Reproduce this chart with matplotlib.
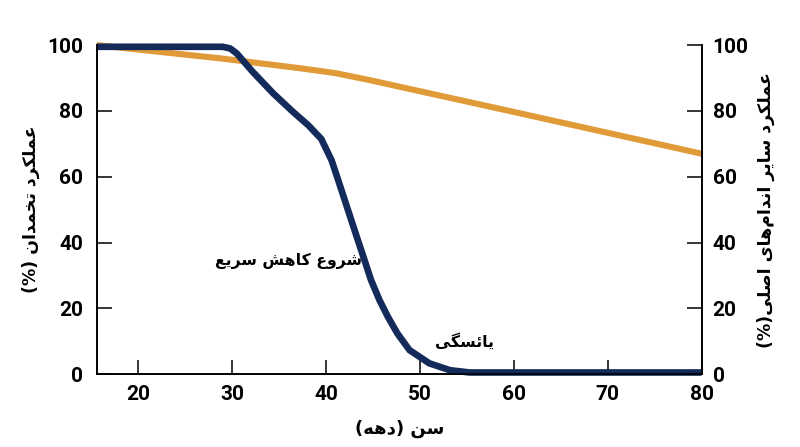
import matplotlib
matplotlib.use("Agg")
import matplotlib.pyplot as plt

# age (years) and function (%)
ovary_age = [15.6, 29.0, 29.8, 30.5, 32.2, 34.4, 36.5, 38.1, 39.5, 40.6, 41.3, 42.0,
             42.7, 43.4, 44.1, 44.8, 45.7, 46.6, 47.6, 48.9, 51.0, 53.2, 55.3, 80.0]
ovary_func = [99.5, 99.5, 99.0, 97.5, 91.9, 85.3, 79.7, 75.7, 71.5, 65.0, 59.0, 52.9,
              46.8, 40.7, 34.7, 28.6, 22.5, 17.4, 12.4, 7.3, 3.3, 1.2, 0.5, 0.5]
organ_age = [15.6, 28.7, 37.2, 41.0, 44.6, 60.0, 80.0]
organ_func = [100, 96.0, 93.0, 91.5, 89.4, 79.7, 67.0]

x_ticks = [20, 30, 40, 50, 60, 70, 80]
y_ticks = [0, 20, 40, 60, 80, 100]

x_label = "سن (دهه)"
left_label = "عملکرد تخمدان (%)"
right_label = "عملکرد سایر اندام‌های اصلی(%)"
note_decline = "شروع کاهش سریع"
note_meno = "یائسگی"

NAVY = "#132a5a"
ORANGE = "#e09a38"

# matplotlib has no arabic shaping: map letters to presentation forms by hand
# letter: (isolated, final, initial, medial); two-form letters only join to the right
FORMS = {
    "ا": ("\uFE8D", "\uFE8E"),
    "د": ("\uFEA9", "\uFEAA"),
    "ر": ("\uFEAD", "\uFEAE"),
    "و": ("\uFEED", "\uFEEE"),
    "ت": ("\uFE95", "\uFE96", "\uFE97", "\uFE98"),
    "خ": ("\uFEA5", "\uFEA6", "\uFEA7", "\uFEA8"),
    "س": ("\uFEB1", "\uFEB2", "\uFEB3", "\uFEB4"),
    "ش": ("\uFEB5", "\uFEB6", "\uFEB7", "\uFEB8"),
    "ص": ("\uFEB9", "\uFEBA", "\uFEBB", "\uFEBC"),
    "ع": ("\uFEC9", "\uFECA", "\uFECB", "\uFECC"),
    "ل": ("\uFEDD", "\uFEDE", "\uFEDF", "\uFEE0"),
    "م": ("\uFEE1", "\uFEE2", "\uFEE3", "\uFEE4"),
    "ن": ("\uFEE5", "\uFEE6", "\uFEE7", "\uFEE8"),
    "ه": ("\uFEE9", "\uFEEA", "\uFEEB", "\uFEEC"),
    "ئ": ("\uFE89", "\uFE8A", "\uFE8B", "\uFE8C"),
    "ی": ("\uFBFC", "\uFBFD", "\uFBFE", "\uFBFF"),
    "ک": ("\uFB8E", "\uFB8F", "\uFB90", "\uFB91"),
    "گ": ("\uFB92", "\uFB93", "\uFB94", "\uFB95"),
}
MIRROR = {"(": ")", ")": "("}


def shape(text):
    out = []
    n = len(text)
    for i, ch in enumerate(text):
        if ch == "\u200c":
            continue
        f = FORMS.get(ch)
        if f is None:
            out.append(MIRROR.get(ch, ch))
            continue
        prev = text[i - 1] if i > 0 else ""
        nxt = text[i + 1] if i + 1 < n else ""
        join_prev = prev in FORMS and len(FORMS[prev]) == 4
        join_next = len(f) == 4 and nxt in FORMS
        if join_prev and join_next:
            out.append(f[3])
        elif join_prev:
            out.append(f[1])
        elif join_next:
            out.append(f[2])
        else:
            out.append(f[0])
    return "".join(reversed(out))


plt.rcParams["font.family"] = ["DejaVu Sans"]

fig = plt.figure(figsize=(8, 4.47), dpi=100)
ax = fig.add_axes([0.121, 0.163, 0.756, 0.736])
ax2 = ax.twinx()

ax.plot(organ_age, organ_func, color=ORANGE, lw=4.4, solid_capstyle="butt",
        solid_joinstyle="round", clip_on=False, zorder=2)
ax.plot(ovary_age, ovary_func, color=NAVY, lw=4.8, solid_capstyle="butt",
        solid_joinstyle="round", clip_on=False, zorder=3)

ax.set_xlim(15.6, 80)
ax.set_ylim(0, 100)
ax2.set_ylim(0, 100)
ax.set_xticks(x_ticks)
ax.set_yticks(y_ticks)
ax2.set_yticks(y_ticks)

for a in (ax, ax2):
    a.spines["top"].set_visible(False)
    for s in a.spines.values():
        s.set_linewidth(1.2)
ax.tick_params(axis="x", direction="in", length=10, width=1.1, pad=8)
ax.tick_params(axis="y", direction="in", length=11, width=1.1, pad=10)
ax2.tick_params(axis="y", direction="in", length=11, width=1.1, pad=8)
for lab in ax.get_xticklabels() + ax.get_yticklabels() + ax2.get_yticklabels():
    lab.set_family("Roboto")
    lab.set_fontweight("bold")
    lab.set_fontsize(15)

ax.set_xlabel(shape(x_label), fontsize=13, fontweight="bold", labelpad=11)
ax.set_ylabel(shape(left_label), fontsize=12.5, fontweight="bold", labelpad=5)
ax2.set_ylabel(shape(right_label), fontsize=12.5, fontweight="bold", rotation=90, labelpad=6)

ax.text(43.8, 34.5, shape(note_decline), ha="right", va="center", fontsize=11.3, fontweight="bold")
ax.text(54.8, 10, shape(note_meno), ha="center", va="center", fontsize=11.3, fontweight="bold")

fig.savefig("out.png", dpi=100)
